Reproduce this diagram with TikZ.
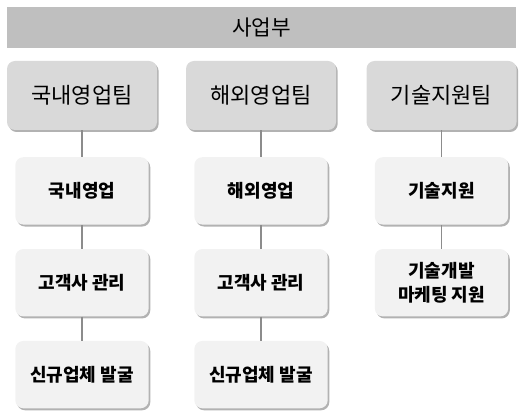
\documentclass[tikz,border=0pt]{standalone}
\usepackage{fontspec}
\setmainfont{Noto Sans CJK KR}
\usepackage{tikz}
\usetikzlibrary{positioning,shadows}

\begin{document}
\begin{tikzpicture}[
  x=0.75pt, y=-0.75pt,
  node distance=18pt and 18pt,
  topbar/.style={fill=black!25, minimum width=381.75pt, minimum height=30.75pt, inner sep=0pt, font=\fontsize{16}{18}\selectfont},
  team/.style={rounded corners=6pt, fill=black!15, minimum width=112.5pt, minimum height=51.75pt, inner sep=0pt, font=\fontsize{16.5}{18}\selectfont,
    drop shadow={shadow xshift=1.2pt, shadow yshift=-1.5pt, fill=black!60, opacity=.5}},
  unit/.style={rounded corners=6pt, fill=black!5, minimum width=100pt, minimum height=50.5pt, inner sep=0pt, align=center, font=\bfseries\fontsize{13.5}{17.5}\selectfont,
    drop shadow={shadow xshift=1.2pt, shadow yshift=-1.5pt, fill=black!60, opacity=.5}},
  link/.style={draw=black!45, line width=0.8pt}
]
\useasboundingbox (0,0) rectangle (521,420);

% Top
\node[topbar] (biz) at (261.5,27.5) {사업부};

% Teams
\node[team] (dom) at (82,95.5) {국내영업팀};
\node[team] (ovs) at (261,95.5) {해외영업팀};
\node[team] (tec) at (441.5,95.5) {기술지원팀};

% Units
\node[unit, below=20pt of dom] (dom1) {국내영업};
\node[unit, below=of dom1] (dom2) {고객사 관리};
\node[unit, below=of dom2] (dom3) {신규업체 발굴};

\node[unit, below=20pt of ovs] (ovs1) {해외영업};
\node[unit, below=of ovs1] (ovs2) {고객사 관리};
\node[unit, below=of ovs2] (ovs3) {신규업체 발굴};

\node[unit, below=20pt of tec] (tec1) {기술지원};
\node[unit, below=of tec1] (tec2) {기술개발\\마케팅 지원};

% Links
\foreach \a/\b in {dom/dom1,dom1/dom2,dom2/dom3,ovs/ovs1,ovs1/ovs2,ovs2/ovs3,tec/tec1,tec1/tec2}
  \draw[link] (\a.south) -- (\b.north);

\end{tikzpicture}
\end{document}
